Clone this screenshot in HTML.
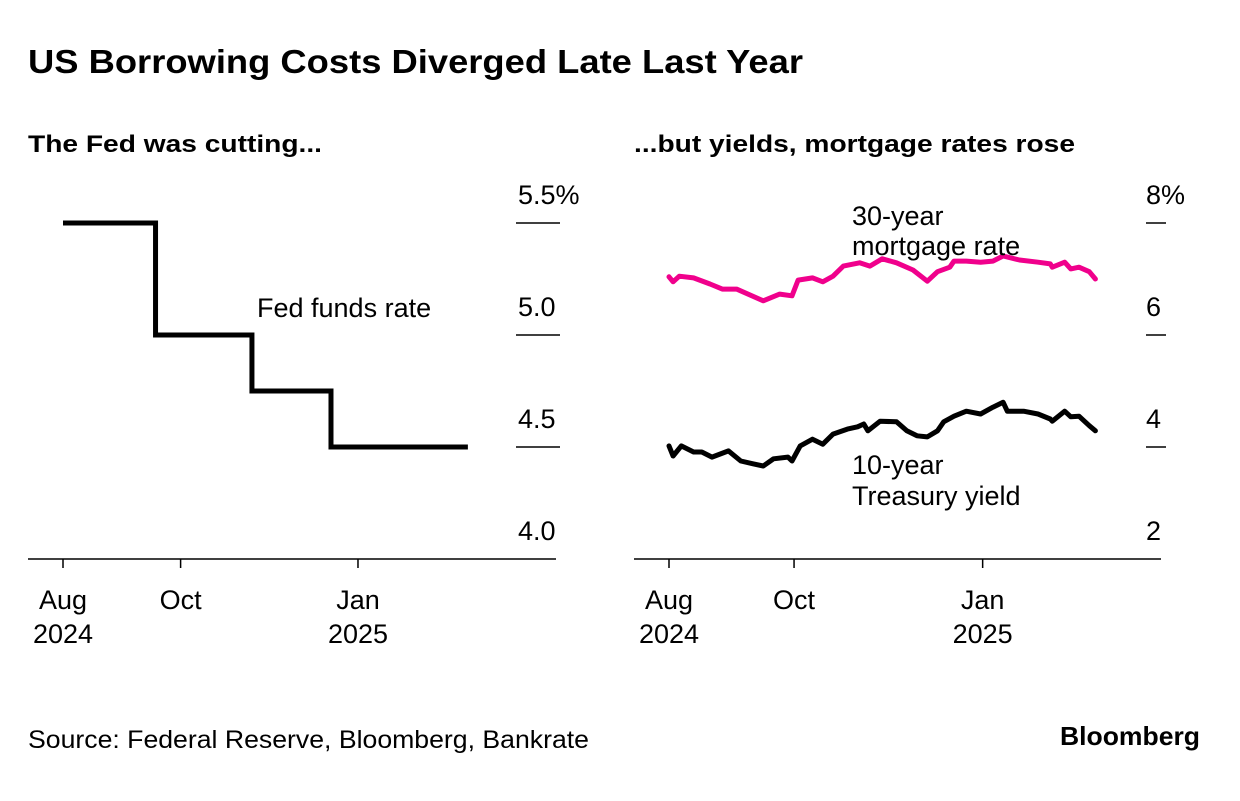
<!DOCTYPE html>
<html><head><meta charset="utf-8"><style>
body{margin:0;background:#fff;font-family:"Liberation Sans",Arial,sans-serif;}
svg text{font-family:"Liberation Sans",Arial,sans-serif;}
</style></head><body>
<svg id="c" width="1240" height="796" xmlns="http://www.w3.org/2000/svg">
<text x="28" y="73" font-size="33" font-weight="bold" fill="#000" textLength="775" lengthAdjust="spacingAndGlyphs">US Borrowing Costs Diverged Late Last Year</text>
<text x="28" y="152" font-size="24" font-weight="bold" fill="#000" textLength="294" lengthAdjust="spacingAndGlyphs">The Fed was cutting...</text>
<text x="634" y="152" font-size="24" font-weight="bold" fill="#000" textLength="441" lengthAdjust="spacingAndGlyphs">...but yields, mortgage rates rose</text>
<text x="28" y="748" font-size="25" fill="#000" textLength="561" lengthAdjust="spacingAndGlyphs">Source: Federal Reserve, Bloomberg, Bankrate</text>
<text x="1200" y="745" font-size="26" font-weight="bold" text-anchor="end" fill="#000" textLength="140" lengthAdjust="spacingAndGlyphs">Bloomberg</text>
<g id="left"></g><g id="right"></g>
</svg>
<script>
// Left: Fed funds rate (day offsets from 2024-08-01)
const fedDays = [0, 48, 98, 139, 210];
const fedRates = [5.5, 5.0, 4.75, 4.5, 4.5];
const leftTicks = [5.5, 5.0, 4.5, 4.0];
const leftTickLabels = ["5.5%", "5.0", "4.5", "4.0"];
// Right: 30-year mortgage and 10-year Treasury
const mortDays = [0,2,5,12,20,26,33,46,54,60,63,70,75,80,85,93,98,104,111,119,126,131,137,139,145,152,158,163,171,180,186,187,193,196,200,205,208];
const mortRates = [7.04,6.95,7.05,7.02,6.91,6.82,6.82,6.61,6.73,6.70,6.98,7.02,6.95,7.05,7.23,7.29,7.23,7.36,7.29,7.16,6.96,7.13,7.21,7.32,7.32,7.30,7.32,7.41,7.34,7.30,7.27,7.21,7.30,7.18,7.21,7.13,7.00];
const tsyDays = [0,2,6,12,16,21,29,35,41,46,51,58,60,64,70,75,80,87,92,95,97,103,111,116,121,126,131,134,139,145,152,158,163,165,173,180,186,187,193,196,200,205,208];
const tsyYields = [4.02,3.84,4.02,3.91,3.91,3.82,3.93,3.75,3.70,3.66,3.79,3.82,3.75,4.02,4.14,4.05,4.23,4.32,4.36,4.41,4.29,4.46,4.45,4.29,4.20,4.18,4.29,4.45,4.55,4.64,4.59,4.71,4.80,4.64,4.64,4.59,4.50,4.46,4.64,4.54,4.55,4.38,4.29];
const rightTicks = [8, 6, 4, 2];
const rightTickLabels = ["8%", "6", "4", "2"];
const xTickDays = [0, 61, 153];
const xTickLabels = [["Aug","2024"],["Oct",""],["Jan","2025"]];

const NS="http://www.w3.org/2000/svg";
function mk(p,tag,attrs){const e=document.createElementNS(NS,tag);for(const k in attrs)e.setAttribute(k,attrs[k]);p.appendChild(e);return e;}

const lx=d=>63+d*1.928;
const ly=v=>559-(v-4.0)*224;
const rx=d=>669+d*2.05;
const ry=v=>559-(v-2)*56;
const FS=27;

const L=document.getElementById('left'), R=document.getElementById('right');

let ax=mk(L,'line',{x1:28,x2:556,y1:559,y2:559,stroke:'#000','stroke-width':1.5});


leftTicks.forEach((v,i)=>{
  const y=ly(v);
  if(v!==4.0){const t=mk(L,'line',{x1:516,x2:560,y1:y,y2:y,stroke:'#000','stroke-width':1.5});
  
  }
  const tx=mk(L,'text',{x:518,y:y-19,'font-size':FS,fill:'#000'});tx.textContent=leftTickLabels[i];
  
  
});
xTickDays.forEach((d,i)=>{
  const x=lx(d);
  const t=mk(L,'line',{x1:x,x2:x,y1:559,y2:568,stroke:'#000','stroke-width':1.5});
  
  
  xTickLabels[i].forEach((s,j)=>{if(!s)return;const tx=mk(L,'text',{x:x,y:609+j*34,'font-size':FS,'text-anchor':'middle',fill:'#000'});tx.textContent=s;
  
  });
});
let dp='';
fedDays.forEach((d,i)=>{
  if(i===0)dp+='M'+lx(d)+','+ly(fedRates[0]);
  else dp+=' H'+lx(d)+' V'+ly(fedRates[i]);
});
const fp=mk(L,'path',{d:dp,fill:'none',stroke:'#000','stroke-width':5,'stroke-linejoin':'miter'});


const fl=mk(L,'text',{x:257,y:317,'font-size':FS,fill:'#000'});fl.textContent='Fed funds rate';



ax=mk(R,'line',{x1:634,x2:1161,y1:559,y2:559,stroke:'#000','stroke-width':1.5});


rightTicks.forEach((v,i)=>{
  const y=ry(v);
  if(v!==2){const t=mk(R,'line',{x1:1146,x2:1166,y1:y,y2:y,stroke:'#000','stroke-width':1.5});
  
  }
  const tx=mk(R,'text',{x:1146,y:y-19,'font-size':FS,fill:'#000'});tx.textContent=rightTickLabels[i];
  
  
});
xTickDays.forEach((d,i)=>{
  const x=rx(d);
  const t=mk(R,'line',{x1:x,x2:x,y1:559,y2:568,stroke:'#000','stroke-width':1.5});
  
  
  xTickLabels[i].forEach((s,j)=>{if(!s)return;const tx=mk(R,'text',{x:x,y:609+j*34,'font-size':FS,'text-anchor':'middle',fill:'#000'});tx.textContent=s;
  
  });
});
function line(days,vals,color,name){
  const d=days.map((t,i)=>(i?'L':'M')+rx(t).toFixed(1)+','+ry(vals[i]).toFixed(1)).join(' ');
  const p=mk(R,'path',{d:d,fill:'none',stroke:color,'stroke-width':5,'stroke-linejoin':'round','stroke-linecap':'round'});
  
  
}
line(mortDays,mortRates,'#f0008c','mortgage-rate-line');
line(tsyDays,tsyYields,'#000','treasury-yield-line');
[['30-year',225],['mortgage rate',255]].forEach(([s,y])=>{const t=mk(R,'text',{x:852,y:y,'font-size':FS,fill:'#000'});t.textContent=s;

});
[['10-year',474],['Treasury yield',505]].forEach(([s,y])=>{const t=mk(R,'text',{x:852,y:y,'font-size':FS,fill:'#000'});t.textContent=s;

});
</script>
</body></html>
